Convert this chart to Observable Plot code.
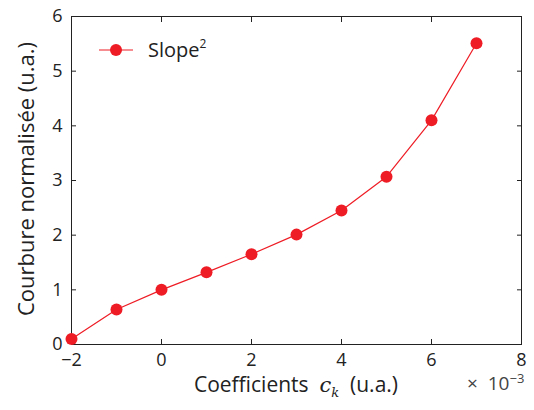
<!DOCTYPE html>
<html>
<head>
<meta charset="utf-8">
<script src="https://cdn.jsdelivr.net/npm/d3@7"></script>
<script src="https://cdn.jsdelivr.net/npm/@observablehq/plot@0.6"></script>
<style>
  html, body { margin: 0; padding: 0; background: #fff; }
  #wrap { position: relative; width: 534px; height: 410px; font-family: "Open Sans", sans-serif; color: #222; }
  .lbl { position: absolute; white-space: nowrap; font-size: 21px; }
</style>
</head>
<body>
<div id="wrap"></div>
<script>
const coeffs = [-2, -1, 0, 1, 2, 3, 4, 5, 6, 7];
const courbure = [0.10, 0.64, 1.00, 1.32, 1.65, 2.01, 2.45, 3.07, 4.10, 5.51];
const xTicks = [-2, 0, 2, 4, 6, 8];
const yTicks = [0, 1, 2, 3, 4, 5, 6];
const seriesName = "Slope";
const red = "#ee1c25";

const data = coeffs.map((c, i) => ({c, v: courbure[i]}));

const plot = Plot.plot({
  width: 534,
  height: 410,
  marginLeft: 71,
  marginRight: 13,
  marginTop: 16,
  marginBottom: 66,
  style: {fontFamily: "'Open Sans', sans-serif", fontSize: "18px", color: "#222", background: "#fff"},
  x: {domain: [-2, 8]},
  y: {domain: [0, 6]},
  marks: [
    Plot.frame({stroke: "#222", strokeWidth: 1}),
    Plot.axisX({ticks: xTicks, tickSize: -5, tickPadding: 14, label: null, tickFormat: d => d < 0 ? "\u2212" + Math.abs(d) : String(d), fontSize: 18}),
    Plot.axisX({anchor: "top", ticks: xTicks, tickSize: -5, label: null, tickFormat: () => ""}),
    Plot.axisY({ticks: yTicks, tickSize: -5, tickPadding: 14, label: null, tickFormat: d => String(d), fontSize: 18}),
    Plot.axisY({anchor: "right", ticks: yTicks, tickSize: -5, label: null, tickFormat: () => ""}),
    Plot.line(data, {x: "c", y: "v", stroke: red, strokeWidth: 1.2}),
    Plot.dot(data, {x: "c", y: "v", r: 6, fill: red, stroke: "none"})
  ]
});

const wrap = document.getElementById("wrap");
wrap.appendChild(plot);

// legend inside the plot (top-left)
const leg = document.createElementNS("http://www.w3.org/2000/svg", "g");
leg.innerHTML = `<line x1="99" x2="133" y1="50" y2="50" stroke="${red}" stroke-width="1.2"/>
<circle cx="116" cy="50" r="6" fill="${red}"/>
<text x="148" y="57" text-anchor="start" font-size="20" fill="#222" font-family="'Open Sans', sans-serif">${seriesName}<tspan dy="-9" font-size="12">2</tspan></text>`;
plot.appendChild(leg);

const ylab = document.createElement("div");
ylab.className = "lbl";
ylab.style.fontSize = "22px";
ylab.textContent = "Courbure normalisée (u.a.)";
ylab.style.left = "25px";
ylab.style.top = "179px";
ylab.style.transform = "translate(-50%, -50%) rotate(-90deg)";
wrap.appendChild(ylab);

const xlab = document.createElement("div");
xlab.className = "lbl";
xlab.innerHTML = 'Coefficients&nbsp; <i style="font-family: \'DejaVu Serif\', serif;">c<sub style="font-size:13px">k</sub></i>&nbsp; (u.a.)';
xlab.style.left = "296px";
xlab.style.top = "385px";
xlab.style.transform = "translate(-50%, -50%)";
wrap.appendChild(xlab);

const mult = document.createElement("div");
mult.className = "lbl";
mult.style.fontSize = "19px";
mult.style.color = "#444";
mult.innerHTML = '×&nbsp; 10<sup style="font-size:13px">−3</sup>';
mult.style.left = "467px";
mult.style.top = "369px";
wrap.appendChild(mult);
</script>
</body>
</html>
